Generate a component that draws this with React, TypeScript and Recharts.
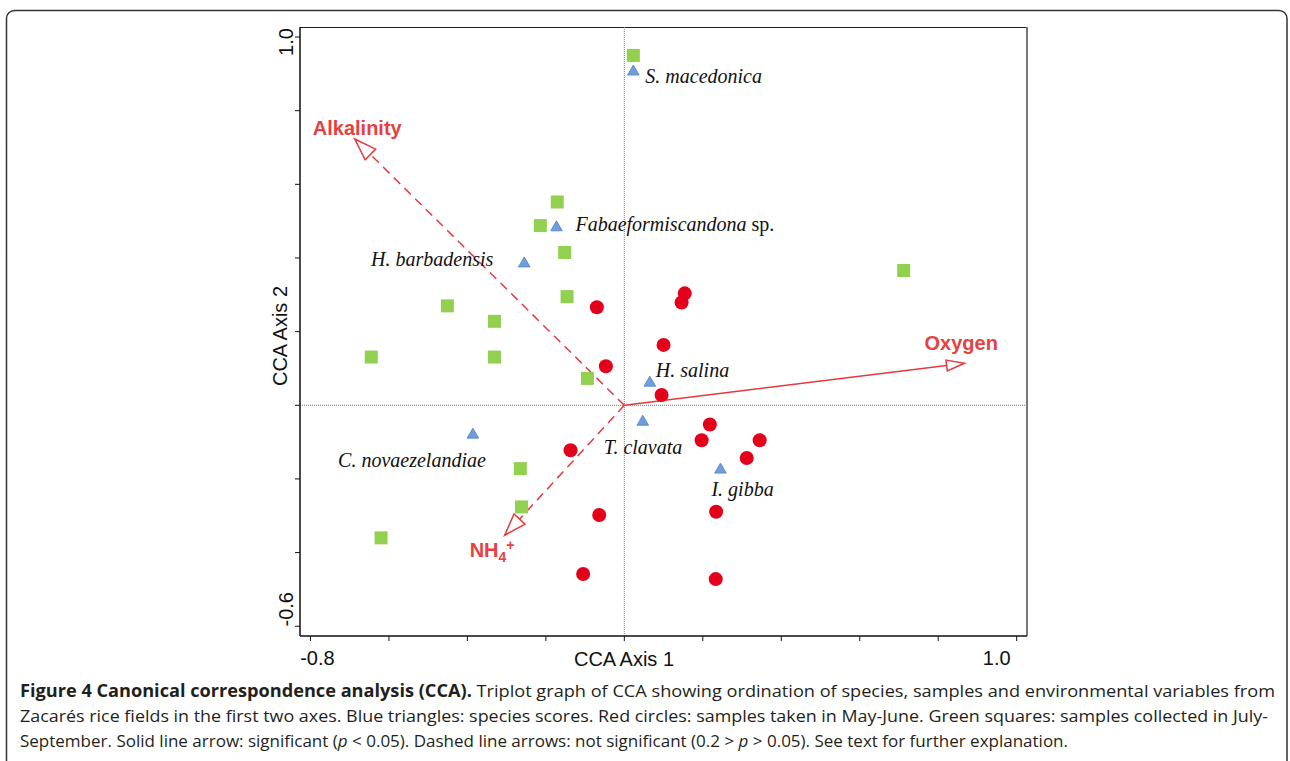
import React from 'react';
import { ScatterChart, Scatter, XAxis, YAxis, ReferenceLine } from 'recharts';

// axis setup
const xDomain: [number, number] = [-0.8266, 1.0263];
const yDomain: [number, number] = [-0.6265, 1.0272];
const xTicks = [-0.8, -0.6, -0.4, -0.2, 0, 0.2, 0.4, 0.6, 0.8, 1.0];
const yTicks = [-0.6, -0.4, -0.2, 0, 0.2, 0.4, 0.6, 0.8, 1.0];
const xLabelledTicks = [-0.8, 1.0];
const yLabelledTicks = [-0.6, 1.0];

// samples collected in July-September (green squares)
const julySepSamples = [
  { x: 0.023, y: 0.95 },
  { x: -0.171, y: 0.552 },
  { x: -0.214, y: 0.488 },
  { x: -0.152, y: 0.415 },
  { x: -0.146, y: 0.295 },
  { x: -0.451, y: 0.27 },
  { x: -0.331, y: 0.228 },
  { x: -0.645, y: 0.131 },
  { x: -0.331, y: 0.131 },
  { x: -0.094, y: 0.073 },
  { x: 0.712, y: 0.366 },
  { x: -0.265, y: -0.172 },
  { x: -0.262, y: -0.276 },
  { x: -0.62, y: -0.36 },
];

// samples taken in May-June (red circles)
const mayJuneSamples = [
  { x: -0.07, y: 0.266 },
  { x: -0.047, y: 0.106 },
  { x: -0.137, y: -0.122 },
  { x: 0.154, y: 0.304 },
  { x: 0.146, y: 0.279 },
  { x: 0.1, y: 0.164 },
  { x: 0.095, y: 0.028 },
  { x: 0.218, y: -0.052 },
  { x: 0.197, y: -0.095 },
  { x: 0.345, y: -0.095 },
  { x: 0.312, y: -0.143 },
  { x: -0.064, y: -0.298 },
  { x: -0.105, y: -0.458 },
  { x: 0.234, y: -0.289 },
  { x: 0.233, y: -0.472 },
];

// species scores (blue triangles)
const speciesScores = [
  { name: 'S. macedonica', x: 0.023, y: 0.909 },
  { name: 'Fabaeformiscandona', x: -0.173, y: 0.486 },
  { name: 'H. barbadensis', x: -0.255, y: 0.388 },
  { name: 'C. novaezelandiae', x: -0.386, y: -0.077 },
  { name: 'H. salina', x: 0.065, y: 0.064 },
  { name: 'T. clavata', x: 0.047, y: -0.042 },
  { name: 'I. gibba', x: 0.245, y: -0.172 },
];

// environmental variables (biplot arrows)
const envVariables = [
  { name: 'Alkalinity', x: -0.687, y: 0.723, significant: false },
  { name: 'Oxygen', x: 0.867, y: 0.114, significant: true },
  { name: 'NH4+', x: -0.305, y: -0.353, significant: false },
];

// label placement (px, relative to the mark)
const speciesLabelOffset: Record<string, [number, number, 'start' | 'end']> = {
  'S. macedonica': [12, 12, 'start'],
  Fabaeformiscandona: [19, 5, 'start'],
  'H. barbadensis': [-31, 4, 'end'],
  'C. novaezelandiae': [13, 33, 'end'],
  'H. salina': [6, -5, 'start'],
  'T. clavata': [-39, 33, 'start'],
  'I. gibba': [-9, 27, 'start'],
};
const envLabelOffset: Record<string, [number, number]> = {
  Alkalinity: [-42, -4],
  Oxygen: [-40, -13],
  'NH4+': [-35, 22],
};
const arrowHead: Record<string, [number, number]> = {
  Alkalinity: [22, 7.5],
  Oxygen: [18, 5.5],
  'NH4+': [22, 7.5],
};

const RED = '#e8383d';
const RED_TEXT = '#e6403f';

const XTick = (props: any) => {
  const { x, y, payload } = props;
  if (!xLabelledTicks.includes(payload.value)) return <g />;
  const dx = payload.value < 0 ? 7 : -20;
  return (
    <text x={x + dx} y={y + 22} textAnchor="middle" fontFamily="Liberation Sans, Arial" fontSize={20} fill="#111">
      {payload.value.toFixed(1)}
    </text>
  );
};

const YTick = (props: any) => {
  const { x, y, payload } = props;
  if (!yLabelledTicks.includes(payload.value)) return <g />;
  const dy = payload.value < 0 ? -17 : 5;
  return (
    <text
      x={x}
      y={y + dy}
      transform={`rotate(-90, ${x}, ${y + dy})`}
      textAnchor="middle"
      fontFamily="Liberation Sans, Arial"
      fontSize={20}
      fill="#111"
    >
      {payload.value.toFixed(1)}
    </text>
  );
};

const Square = (props: any) => {
  const { cx, cy } = props;
  return <rect x={cx - 6.5} y={cy - 6.5} width={13} height={13} fill="#92d050" />;
};

const Circle = (props: any) => {
  const { cx, cy } = props;
  return <circle cx={cx} cy={cy} r={7} fill="#e2001a" />;
};

const Triangle = (props: any) => {
  const { cx, cy, payload } = props;
  const [dx, dy, anchor] = speciesLabelOffset[payload.name];
  return (
    <g>
      <polygon
        points={`${cx},${cy - 5.5} ${cx - 5.8},${cy + 4.5} ${cx + 5.8},${cy + 4.5}`}
        fill="#6e9fdc"
        stroke="#4f7fc2"
        strokeWidth={0.8}
      />
      <text
        x={cx + dx}
        y={cy + dy}
        textAnchor={anchor}
        fontFamily="Liberation Serif, Times New Roman, serif"
        fontSize={20}
        fill="#111"
      >
        {payload.name === 'Fabaeformiscandona' ? (
          <>
            <tspan fontStyle="italic">Fabaeformiscandona</tspan>
            <tspan> sp.</tspan>
          </>
        ) : (
          <tspan fontStyle="italic">{payload.name}</tspan>
        )}
      </text>
    </g>
  );
};

const makeArrow = (name: string, significant: boolean) => (props: any) => {
  const { x1, y1, x2, y2 } = props;
  const [len, hw] = arrowHead[name];
  const d = Math.hypot(x2 - x1, y2 - y1);
  const ux = (x2 - x1) / d;
  const uy = (y2 - y1) / d;
  const bx = x2 - ux * len;
  const by = y2 - uy * len;
  const nx = -uy * hw;
  const ny = ux * hw;
  const [lx, ly] = envLabelOffset[name];
  return (
    <g>
      <line
        x1={x1}
        y1={y1}
        x2={bx}
        y2={by}
        stroke={RED}
        strokeWidth={1.5}
        strokeDasharray={significant ? undefined : '9 6'}
      />
      <polygon
        points={`${x2},${y2} ${bx + nx},${by + ny} ${bx - nx},${by - ny}`}
        fill="#fff"
        stroke={RED}
        strokeWidth={1.5}
      />
      <text
        x={x2 + lx}
        y={y2 + ly}
        fontFamily="Liberation Sans, Arial"
        fontWeight="bold"
        fontSize={20}
        fill={RED_TEXT}
      >
        {name === 'NH4+' ? (
          <>
            NH
            <tspan fontSize={14} dy={5}>4</tspan>
            <tspan fontSize={14} dy={-12}>+</tspan>
          </>
        ) : (
          name
        )}
      </text>
    </g>
  );
};

const captionFont = "'Open Sans', 'Noto Sans', sans-serif";

export default function App() {
  return (
    <div style={{ position: 'absolute', left: 0, top: 0, width: 1290, height: 761, background: '#fff', overflow: 'hidden' }}>
      <svg width={1290} height={761} style={{ position: 'absolute', left: 0, top: 0 }}>
        <rect x={6.5} y={10.5} width={1280.5} height={800} rx={8} fill="none" stroke="#333" strokeWidth={1.5} />
        <line x1={300} y1={27.5} x2={1027} y2={27.5} stroke="#222" strokeWidth={1.2} />
        <line x1={1027} y1={27} x2={1027} y2={636} stroke="#777" strokeWidth={2} />
        <text x={624} y={666} textAnchor="middle" fontFamily="Liberation Sans, Arial" fontSize={20} fill="#111">
          CCA Axis 1
        </text>
        <text
          x={287}
          y={336}
          transform="rotate(-90, 287, 336)"
          textAnchor="middle"
          fontFamily="Liberation Sans, Arial"
          fontSize={20}
          fill="#111"
        >
          CCA Axis 2
        </text>
        <text x={20} y={697} fontFamily={captionFont} fontSize={17} fill="#231f20" textLength={1255} lengthAdjust="spacingAndGlyphs">
          <tspan fontWeight="bold">Figure 4 Canonical correspondence analysis (CCA).</tspan>
          <tspan> Triplot graph of CCA showing ordination of species, samples and environmental variables from</tspan>
        </text>
        <text x={20} y={722} fontFamily={captionFont} fontSize={17} fill="#231f20" textLength={1248} lengthAdjust="spacingAndGlyphs">
          Zacarés rice fields in the first two axes. Blue triangles: species scores. Red circles: samples taken in May-June. Green squares: samples collected in July-
        </text>
        <text x={20} y={747} fontFamily={captionFont} fontSize={17} fill="#231f20">
          September. Solid line arrow: significant (<tspan fontStyle="italic">p</tspan> {'<'} 0.05). Dashed line arrows: not significant (0.2 {'>'}{' '}
          <tspan fontStyle="italic">p</tspan> {'>'} 0.05). See text for further explanation.
        </text>
      </svg>
      <div style={{ position: 'absolute', left: 0, top: 0 }}>
        <ScatterChart width={1290} height={761} margin={{ top: 27, right: 263, bottom: 95, left: 240 }}>
          <XAxis
            type="number"
            dataKey="x"
            domain={xDomain}
            ticks={xTicks}
            allowDataOverflow
            height={30}
            tickSize={5}
            axisLine={{ stroke: '#111', strokeWidth: 1.5 }}
            tickLine={{ stroke: '#111' }}
            tick={<XTick />}
            interval={0}
          />
          <YAxis
            type="number"
            dataKey="y"
            domain={yDomain}
            ticks={yTicks}
            allowDataOverflow
            width={60}
            tickSize={5}
            axisLine={{ stroke: '#111', strokeWidth: 1.5 }}
            tickLine={{ stroke: '#111' }}
            tick={<YTick />}
            interval={0}
          />
          <ReferenceLine x={0} stroke="#777" strokeDasharray="1 1" />
          <ReferenceLine y={0} stroke="#777" strokeDasharray="1 1" />
          {envVariables.map((v) => (
            <ReferenceLine
              key={v.name}
              segment={[{ x: 0, y: 0 }, { x: v.x, y: v.y }]}
              shape={makeArrow(v.name, v.significant)}
            />
          ))}
          <Scatter data={julySepSamples} shape={<Square />} isAnimationActive={false} />
          <Scatter data={mayJuneSamples} shape={<Circle />} isAnimationActive={false} />
          <Scatter data={speciesScores} shape={<Triangle />} isAnimationActive={false} />
        </ScatterChart>
      </div>
    </div>
  );
}
